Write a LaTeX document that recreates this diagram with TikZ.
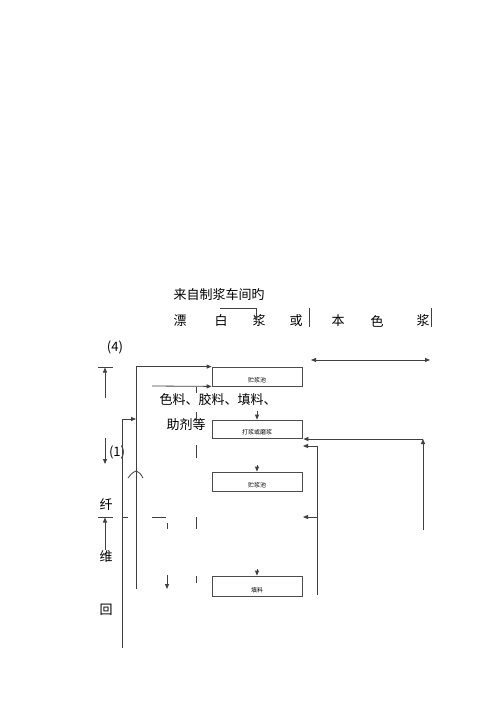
\documentclass[tikz,border=0pt]{standalone}
\usepackage{fontspec}
\setmainfont{Noto Sans CJK SC}
\usetikzlibrary{arrows.meta}
\tikzset{
  ln/.style={draw=black!75, line width=0.8pt},
  tip/.tip={Triangle[length=5pt,width=4pt]},
  arr/.style={ln, -tip},
  darr/.style={ln, tip-tip},
  box/.style={draw=black!70, line width=0.8pt, minimum width=90pt, inner sep=0pt},
  boxtxt/.style={font=\fontsize{6}{7}\selectfont, inner sep=0pt},
  big/.style={font=\fontsize{13}{15}\selectfont, inner sep=0pt},
}
\begin{document}
\begin{tikzpicture}[x=1pt,y=-1pt]
\useasboundingbox (0,0) rectangle (500,707);
% texts
\node[big] (t1) at (219,295) {来自制浆车间旳};
\node[big] (p1) at (180,321) {漂};
\node[big] (p2) at (221,321) {白};
\node[big] (p3) at (259,321) {浆};
\node[big] (p4) at (296,321) {或};
\node[big] (p5) at (338,321) {本};
\node[big] (p6) at (377,321) {色};
\node[big] (p7) at (423,321) {浆};
\node[big] (n4) at (115,347) {(4)};
\node[big] (m1) at (218,400) {色料、胶料、填料、};
\node[big] (m2) at (186,425) {助剂等};
\node[big] (n1) at (117,452) {(1)};
\node[big] (q1) at (106,505) {纤};
\node[big] (q2) at (106,557) {维};
\node[big] (q3) at (106,610) {回};
% boxes
\node[box, minimum height=19pt] (b1) at (257,376.5) {};
\node[boxtxt] (b1t) at (257,380) {贮浆池};
\node[box, minimum height=18pt] (b2) at (257,429) {};
\node[boxtxt] (b2t) at (257,432) {打浆或磨浆};
\node[box, minimum height=19pt] (b3) at (257,481.5) {};
\node[boxtxt] (b3t) at (257,485) {贮浆池};
\node[box, minimum height=20pt] (b4) at (257,586) {};
\node[boxtxt] (b4t) at (257,590) {填料};
% coordinates
\coordinate (s1) at (220,308);
\coordinate (s2) at (256,308);
\coordinate (s3) at (256,321);
\coordinate (v1) at (309.5,308);
\coordinate (v2) at (309.5,327);
\coordinate (v3) at (431.5,308);
\coordinate (v4) at (431.5,327);
\coordinate (L1) at (136,589);
\coordinate (L2) at (152,386);
\coordinate (L3) at (122,648);
\coordinate (L4) at (136,419);
\coordinate (d1) at (257,411);
\coordinate (d2) at (257,465);
\coordinate (d3) at (257,569);
\coordinate (R1) at (311,360);
\coordinate (R2) at (430,360);
\coordinate (R3) at (423,530);
\coordinate (R4) at (423,439);
\coordinate (R5) at (317,595);
\coordinate (R6) at (317,446);
\coordinate (R7) at (303,446);
\coordinate (R8) at (317,517);
\coordinate (R9) at (303,517);
% top connector and bars
\draw[ln] (v1) -- (v2);
\draw[ln] (v3) -- (v4);
\draw[arr] (s1) -- (s2) -- (s3);
% left main lines
\draw[arr] (L1) |- (b1.north west);
\draw[arr] (L2) -- (b1.south west);
\draw[arr] (L3) |- (L4);
\draw[arr] (d1) -- (b2.north);
\draw[arr] (d2) -- (b3.north);
\draw[arr] (d3) -- (b4.north);
% right side
\draw[darr] (R1) -- (R2);
\draw[arr] (R3) -- (R4);
\draw[arr] (R4) -- ([xshift=1pt]b2.east |- R4);
\draw[ln] (R5) -- (R6);
\draw[arr] (R6) -- (R7);
\draw[arr] (R8) -- (R9);
% left ticks and arrows
\coordinate (k1a) at (98,367); \coordinate (k1b) at (113,367);
\coordinate (k2a) at (98,517); \coordinate (k2b) at (113,517);
\draw[ln] (k1a) -- (k1b);
\draw[ln] (k2a) -- (k2b);
\coordinate (u1) at (105,398); \coordinate (u2) at (105,367.5);
\draw[arr] (u1) -- (u2);
\coordinate (u3) at (105,438); \coordinate (u4) at (105,464);
\draw[arr] (u3) -- (u4);
\coordinate (u5) at (105,550); \coordinate (u6) at (105,517.5);
\draw[arr] (u5) -- (u6);
\coordinate (e1) at (123,517); \coordinate (e2) at (128,517);
\draw[ln] (e1) -- (e2);
\coordinate (e3) at (152,517); \coordinate (e4) at (166,517);
\draw[ln] (e3) -- (e4);
% caret
\coordinate (c1) at (128,478); \coordinate (c2) at (136,471); \coordinate (c3) at (143,478);
\draw[ln] (c1) .. controls (132,473) .. (c2) .. controls (140,473) .. (c3);
% small fragments
\coordinate (f1) at (196,387); \coordinate (f2) at (196,393);
\draw[ln] (f1) -- (f2);
\coordinate (f3) at (196,412); \coordinate (f4) at (196,421);
\draw[ln] (f3) -- (f4);
\coordinate (f5) at (196,445); \coordinate (f6) at (196,458);
\draw[ln] (f5) -- (f6);
\coordinate (f7) at (196,517); \coordinate (f8) at (196,529);
\draw[ln] (f7) -- (f8);
\coordinate (f9) at (167,523); \coordinate (f10) at (167,529);
\draw[ln] (f9) -- (f10);
\coordinate (f11) at (196,576); \coordinate (f12) at (196,583);
\draw[ln] (f11) -- (f12);
\coordinate (g1) at (167,575); \coordinate (g2) at (167,589);
\draw[arr] (g1) -- (g2);
\end{tikzpicture}
\end{document}
